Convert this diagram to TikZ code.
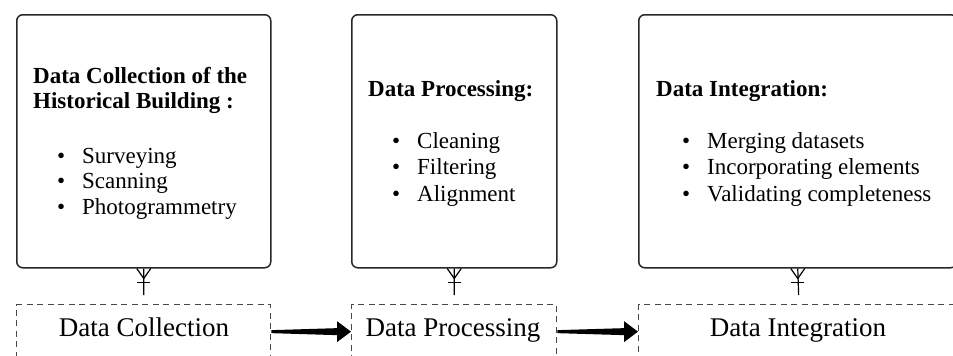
\documentclass[tikz,border=0pt]{standalone}
\usepackage{fontspec}
\setmainfont{Liberation Serif}
\usetikzlibrary{calc}

\tikzset{
  card/.style={draw=black!85, line width=1.5pt, rounded corners=6pt,
    anchor=north west, inner sep=0pt, minimum height=253pt},
  stage/.style={draw=black!72, line width=1.3pt, dash pattern=on 6pt off 4.5pt,
    anchor=north west, inner sep=0pt, minimum height=54pt},
  titletext/.style={font=\fontsize{23}{25}\selectfont\bfseries, anchor=base west, inner sep=0pt},
  itemtext/.style={font=\fontsize{23}{25}\selectfont, anchor=base west, inner sep=0pt},
  stagetext/.style={font=\fontsize{27}{30}\selectfont, anchor=base, inner sep=0pt},
  link/.style={draw=black, line width=1.2pt},
}

% bullet entry: round dot, then the text
\newcommand\bulletentry[1]{\makebox[25pt][l]{•}#1}

% crow's foot connector from a card down to its stage box
\newcommand\crowlink[2]{%
  \draw[link] (#1.south) -- ([yshift=9pt]#2.north);
  \draw[link] ($(#1.south)+(-7,0)$) -- ($(#1.south)+(0,10)$) -- ($(#1.south)+(7,0)$);
  \draw[link] ($(#1.south)+(-6.5,14)$) -- ($(#1.south)+(6.5,14)$);
}

% tapered block arrow between two stage boxes
\newcommand\flowarrow[2]{%
  \fill[black] ($(#1.east)+(0,-1.5)$) -- ($(#2.west)+(-14,-3.5)$) -- ($(#2.west)+(-14,-10.5)$)
    -- (#2.west) -- ($(#2.west)+(-14,10.5)$) -- ($(#2.west)+(-14,3.5)$)
    -- ($(#1.east)+(0,1.5)$) -- cycle;
}

\begin{document}
\begin{tikzpicture}[x=1pt, y=-1pt]
  \useasboundingbox (0,0) rectangle (953,356);
  \clip (0,0) rectangle (953,356);

  % upper cards
  \node[card, minimum width=254pt] (b1) at (16,14) {};
  \node[card, minimum width=205pt] (b2) at (351,14) {};
  \node[card, minimum width=318pt] (b3) at (638,14) {};

  % card 1 contents
  \node[titletext] (t1a) at (33,83) {Data Collection of the};
  \node[titletext] (t1b) at (33,108) {Historical Building :};
  \node[itemtext] (i1a) at (57,163) {\bulletentry{Surveying}};
  \node[itemtext] (i1b) at (57,188.5) {\bulletentry{Scanning}};
  \node[itemtext] (i1c) at (57,214) {\bulletentry{Photogrammetry}};

  % card 2 contents
  \node[titletext] (t2) at (368,96) {Data Processing:};
  \node[itemtext] (i2a) at (392,148) {\bulletentry{Cleaning}};
  \node[itemtext] (i2b) at (392,174.5) {\bulletentry{Filtering}};
  \node[itemtext] (i2c) at (392,201) {\bulletentry{Alignment}};

  % card 3 contents
  \node[titletext] (t3) at (656,96) {Data Integration:};
  \node[itemtext] (i3a) at (682,148) {\bulletentry{Merging datasets}};
  \node[itemtext] (i3b) at (682,174.5) {\bulletentry{Incorporating elements}};
  \node[itemtext] (i3c) at (682,201) {\bulletentry{Validating completeness}};

  % lower stage boxes
  \node[stage, minimum width=254pt] (d1) at (16,304) {};
  \node[stage, minimum width=205pt] (d2) at (351,304) {};
  \node[stage, minimum width=320pt] (d3) at (638,304) {};

  \node[stagetext] (s1) at (144,336) {Data Collection};
  \node[stagetext] (s2) at (453,336) {Data Processing};
  \node[stagetext] (s3) at (798,336) {Data Integration};

  % connectors
  \crowlink{b1}{d1}
  \crowlink{b2}{d2}
  \crowlink{b3}{d3}

  \flowarrow{d1}{d2}
  \flowarrow{d2}{d3}
\end{tikzpicture}
\end{document}
